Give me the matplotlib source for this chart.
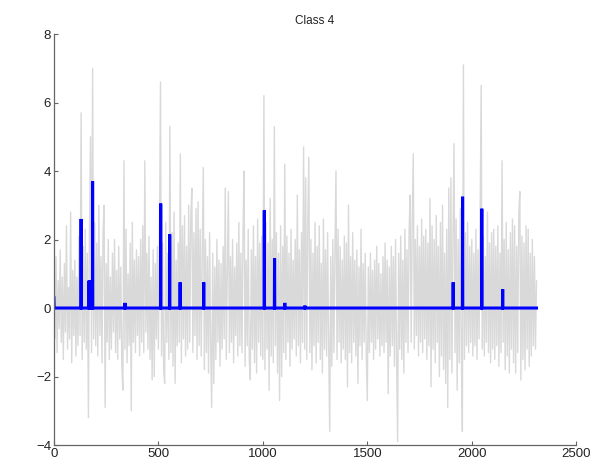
import numpy as np
import matplotlib
matplotlib.use("Agg")
import matplotlib.pyplot as plt

plt.rcParams['font.family'] = ['Liberation Sans', 'DejaVu Sans']

gray_step = 5
gray_values = [
    1.2, -0.9, 1.5, -1.3, 0.8, -0.6, 1.7, -1.0, 0.9, -1.5, 1.3, -0.7, 2.4, -1.2, 0.6, -0.9, 2.8, -1.6, 1.1, -0.8,
    1.4, -1.4, 0.9, -1.1, 2.1, -0.8, 5.7, -1.5, 1.8, -1.0, 2.3, -1.2, 1.6, -3.2, 2.2, 5.0, -1.3, 7.0, -0.9, 2.5,
    -1.1, 1.9, -1.4, 3.0, -0.8, 1.5, -1.6, 2.2, 3.0, -2.9, 1.3, -1.0, 2.0, -1.5, 0.9, -1.2, 1.6, -0.7, 2.0, -1.3,
    1.1, -1.5, 1.8, -0.9, 1.2, -1.7, -2.4, 4.3, -1.2, 2.3, -1.6, 1.0, -1.1, 1.9, -3.0, 2.5, -1.0, 1.4, -1.3, 1.7,
    -0.8, 1.5, -1.4, 2.0, -1.0, 2.4, -1.3, 4.3, -0.7, 1.6, -1.2, 2.1, -1.5, 0.9, -2.1, 1.7, -2.0, 1.3, -0.9, 1.8,
    -1.2, 2.0, 6.6, -1.4, 1.9, -1.8, -2.2, 2.5, -1.0, 1.6, -1.5, 5.3, -1.3, 2.2, -1.7, 2.8, -2.2, 1.4, -1.1, 1.9,
    -1.0, 4.5, -1.6, 2.4, -0.9, 2.7, -1.4, 1.8, -1.2, 3.0, -1.0, 2.6, 3.5, -1.3, 2.2, -0.8, 2.9, -1.5, 3.1, -1.1,
    2.3, -1.4, 1.7, 4.1, -1.8, 2.0, -1.3, 1.5, -1.9, 2.2, -1.1, -2.9, 1.6, -2.2, 1.2, -1.5, 2.0, -1.0, 1.4, -1.7,
    1.3, -1.2, 1.8, -0.9, 3.5, -1.5, 1.1, 3.4, -1.3, 1.5, -1.0, 2.0, -1.6, 1.2, -0.8, 1.9, -1.4, 2.5, -1.1, 1.6,
    -1.3, 2.2, 4.0, -1.7, 1.4, -1.1, 2.3, -1.5, -2.1, 1.7, -1.2, 2.4, -1.6, 1.5, -1.9, 2.6, -1.0, 1.9, -1.4, 2.1,
    -1.5, 6.2, -1.8, 2.5, -1.2, 1.9, -2.4, 3.2, -1.4, 2.0, -1.6, 5.3, -1.1, 2.2, -1.9, 1.6, -2.7, 2.4, -2.0, 1.8,
    -1.3, 4.2, -1.5, 2.1, -1.0, 1.6, -1.7, 2.3, -1.2, 1.4, -0.9, 2.0, -1.4, 3.3, -1.1, 1.7, -1.6, 2.2, -1.0, 4.7,
    -1.2, 3.8, -1.5, 2.5, 4.4, -1.3, 2.0, -1.8, 1.6, -1.1, 2.5, -1.6, 1.8, -1.0, 2.4, -1.5, 1.3, -1.9, 2.6, -1.2,
    1.7, -1.4, 2.2, -1.1, -3.6, 1.5, -1.7, 2.0, -1.3, 1.6, 4.0, -1.5, 2.3, -1.0, 1.8, -1.6, 1.4, -1.2, 2.1, -1.5,
    1.9, -2.3, 3.0, -1.3, 1.5, -1.6, 2.2, -1.0, 1.4, -1.4, 1.7, -2.2, 1.2, -1.1, 2.3, -1.5, 1.3, -1.0, 1.6, -1.4,
    -2.7, 1.2, -1.3, 1.6, -1.0, 1.1, -1.5, 1.4, -1.2, 1.8, -0.9, 1.3, -1.4, 1.0, -1.1, 1.5, -1.3, 1.9, -1.0, 1.4,
    -2.5, 1.2, -1.4, 1.8, -1.1, 1.5, -1.7, 2.0, -1.3, -3.9, 1.6, -1.2, 2.1, -1.5, 1.4, -1.9, 2.3, -1.0, 1.7, -1.3,
    2.2, 3.3, -1.0, 2.5, 4.5, -1.2, 2.0, -0.8, 2.4, -1.4, 1.8, -1.0, 2.6, -1.3, 2.1, -0.9, 2.3, -1.5, 1.9, -1.1,
    3.2, -2.3, 2.4, -1.2, 2.0, -1.6, 2.7, -1.0, 1.8, -2.0, 2.5, -1.4, 3.0, -1.8, 1.6, -2.2, 2.3, -2.9, 3.5, -1.5,
    3.8, -1.9, 2.1, 4.8, -1.3, 2.6, -2.4, 2.0, -1.6, 2.9, -1.2, -3.6, 7.1, -1.5, 2.2, -1.1, 2.5, -1.3, 1.8, -1.0,
    2.0, -1.4, 1.6, -1.1, 2.3, -1.5, 1.7, -0.9, 2.6, 6.5, -1.2, 2.1, -1.4, 1.5, -1.0, 2.8, -1.3, 1.9, -1.6, 2.2,
    -1.2, 2.3, -1.5, 1.8, -1.1, 2.4, -1.7, 1.6, -1.3, 4.3, -1.0, 2.0, -1.8, 2.5, -1.4, 1.7, -1.9, 2.2, -1.2, 2.6,
    -1.6, 2.4, -1.9, 1.8, -1.3, 2.7, 3.4, -2.1, 2.1, -1.5, 1.9, -1.8, 2.4, -1.2, 2.3, -1.7, 1.6, -1.4, 2.0, -1.1,
    1.5, -1.2, 0.8,
]

# Sparse (blue) signal: spike locations and heights
signal_length = 2311
spike_x = [0, 130, 168, 174, 185, 340, 511, 554, 604, 717, 1007, 1056, 1105, 1201, 1911, 1956, 2048, 2148]
spike_h = [0.3, 2.6, 0.8, 0.8, 3.7, 0.15, 3.05, 2.15, 0.75, 0.75, 2.85, 1.45, 0.15, 0.07, 0.75, 3.25, 2.9, 0.55]

title_text = "Class 4"
x_ticks = [0, 500, 1000, 1500, 2000, 2500]
y_ticks = [-4, -2, 0, 2, 4, 6, 8]

gray_x = np.arange(len(gray_values)) * gray_step
blue = np.zeros(signal_length)
blue[spike_x] = spike_h
blue_x = np.arange(signal_length)

fig = plt.figure(figsize=(6.13, 4.66), dpi=100)
ax = fig.add_axes([0.088, 0.045, 0.852, 0.882])
ax.plot(gray_x, gray_values, color='#d9d9d9', lw=1.0)
ax.plot(blue_x, blue, color='#0000ff', lw=2.2, solid_joinstyle='miter')

ax.set_xlim(0, 2500)
ax.set_ylim(-4, 8)
ax.set_xticks(x_ticks)
ax.set_yticks(y_ticks)
for s in ['top', 'right']:
    ax.spines[s].set_visible(False)
for s in ['left', 'bottom']:
    ax.spines[s].set_color('#666666')
    ax.spines[s].set_linewidth(0.9)
ax.tick_params(direction='in', length=3, width=0.8, color='#666666',
               labelsize=9.5, labelcolor='#222222', pad=2)
ax.set_title(title_text, fontsize=8.5, color='#222222', pad=7)

fig.savefig('out.png', dpi=100)
